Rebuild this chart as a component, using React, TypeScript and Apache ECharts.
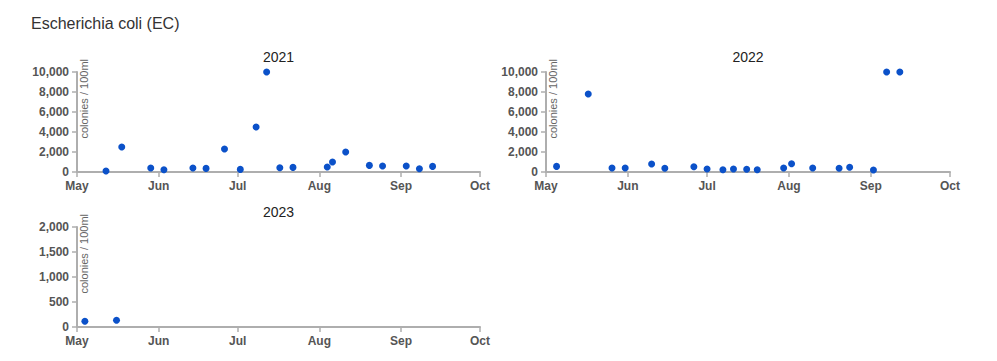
import React, { useEffect, useRef } from "react";
import * as echarts from "echarts";

const chartTitle = "Escherichia coli (EC)";
const yAxisName = "colonies / 100ml";
const panelYears = ["2021", "2022", "2023"];
const monthLabels = ["Jan", "Feb", "Mar", "Apr", "May", "Jun", "Jul", "Aug", "Sep", "Oct", "Nov", "Dec"];

const dates2021 = [
  "2021-05-12", "2021-05-18", "2021-05-29", "2021-06-03", "2021-06-14",
  "2021-06-19", "2021-06-26", "2021-07-02", "2021-07-08", "2021-07-12",
  "2021-07-17", "2021-07-22", "2021-08-04", "2021-08-06", "2021-08-11",
  "2021-08-20", "2021-08-25", "2021-09-03", "2021-09-08", "2021-09-13",
];
const values2021 = [100, 2500, 400, 230, 400, 360, 2300, 260, 4500, 10000, 430, 460, 500, 1000, 2000, 660, 600, 600, 330, 560];

const dates2022 = [
  "2022-05-05", "2022-05-17", "2022-05-26", "2022-05-31", "2022-06-10",
  "2022-06-15", "2022-06-26", "2022-07-01", "2022-07-07", "2022-07-11",
  "2022-07-16", "2022-07-20", "2022-07-30", "2022-08-02", "2022-08-10",
  "2022-08-20", "2022-08-24", "2022-09-02", "2022-09-07", "2022-09-12",
];
const values2022 = [560, 7800, 400, 400, 800, 370, 530, 300, 230, 300, 270, 230, 400, 830, 400, 370, 470, 200, 10000, 10000];

const dates2023 = ["2023-05-04", "2023-05-16"];
const values2023 = [115, 135];

const yMax = [10000, 10000, 2000];
const yInterval = [2000, 2000, 500];

const FONT = "Liberation Sans, Arial, sans-serif";

export default function App() {
  const ref = useRef<HTMLDivElement>(null);
  useEffect(() => {
    document.body.style.margin = "0";
    const chart = echarts.init(ref.current!, null, { renderer: "svg" });
    const grids = [
      { left: 77, top: 72, width: 403, height: 100 },
      { left: 546, top: 72, width: 404, height: 100 },
      { left: 77, top: 227, width: 403, height: 100 },
    ];
    const datasets = [
      [dates2021, values2021],
      [dates2022, values2022],
      [dates2023, values2023],
    ];
    const axisColor = "#aeaeae";
    const labelStyle = { color: "#555", fontWeight: "bold" as const, fontSize: 12, fontFamily: FONT };

    const xAxis = panelYears.map((y, i) => ({
      type: "time" as const,
      gridIndex: i,
      min: new Date(Number(y), 4, 1).getTime(),
      max: new Date(Number(y), 9, 1).getTime(),
      minInterval: 28 * 24 * 3600 * 1000,
      maxInterval: 31 * 24 * 3600 * 1000,
      axisLine: { show: true, lineStyle: { color: axisColor, width: 2 } },
      axisTick: { show: true, length: 5, lineStyle: { color: axisColor, width: 1.5 } },
      splitLine: { show: false },
      axisLabel: {
        ...labelStyle,
        margin: 8,
        hideOverlap: false,
        showMinLabel: true,
        showMaxLabel: true,
        formatter: (v: number) => monthLabels[new Date(v).getMonth()],
      },
    }));
    const yAxis = panelYears.map((_, i) => ({
      type: "value" as const,
      gridIndex: i,
      min: 0,
      max: yMax[i],
      interval: yInterval[i],
      axisLine: { show: true, lineStyle: { color: axisColor, width: 2 } },
      axisTick: { show: true, length: 5, lineStyle: { color: axisColor, width: 1.5 } },
      splitLine: { show: false },
      axisLabel: {
        ...labelStyle,
        margin: 8,
        formatter: (v: number) => v.toLocaleString("en-US"),
      },
    }));
    const series = datasets.map(([d, v], i) => ({
      type: "scatter" as const,
      xAxisIndex: i,
      yAxisIndex: i,
      symbol: "circle",
      symbolSize: 7,
      itemStyle: { color: "#0b51c9", opacity: 1 },
      data: (d as string[]).map((ds, j) => [ds, (v as number[])[j]]),
    }));

    const graphic: any[] = [
      {
        type: "text",
        x: 31,
        y: 23,
        style: { text: chartTitle, fontSize: 16, fontFamily: FONT, fill: "#333", verticalAlign: "middle", align: "left" },
      },
    ];
    grids.forEach((g, i) => {
      graphic.push({
        type: "text",
        x: g.left + g.width / 2,
        y: g.top - 15,
        style: { text: panelYears[i], fontSize: 14, fontFamily: FONT, fill: "#222", align: "center", verticalAlign: "middle" },
      });
      graphic.push({
        type: "text",
        x: g.left + 6.5,
        y: g.top - 13,
        rotation: Math.PI / 2,
        style: { text: yAxisName, fontSize: 11, fontFamily: FONT, fill: "#666", align: "right", verticalAlign: "middle" },
      });
    });

    chart.setOption({
      animation: false,
      backgroundColor: "#fff",
      grid: grids,
      xAxis,
      yAxis,
      series,
      graphic,
    });
    return () => chart.dispose();
  }, []);
  return <div ref={ref} style={{ width: 997, height: 361 }} />;
}
